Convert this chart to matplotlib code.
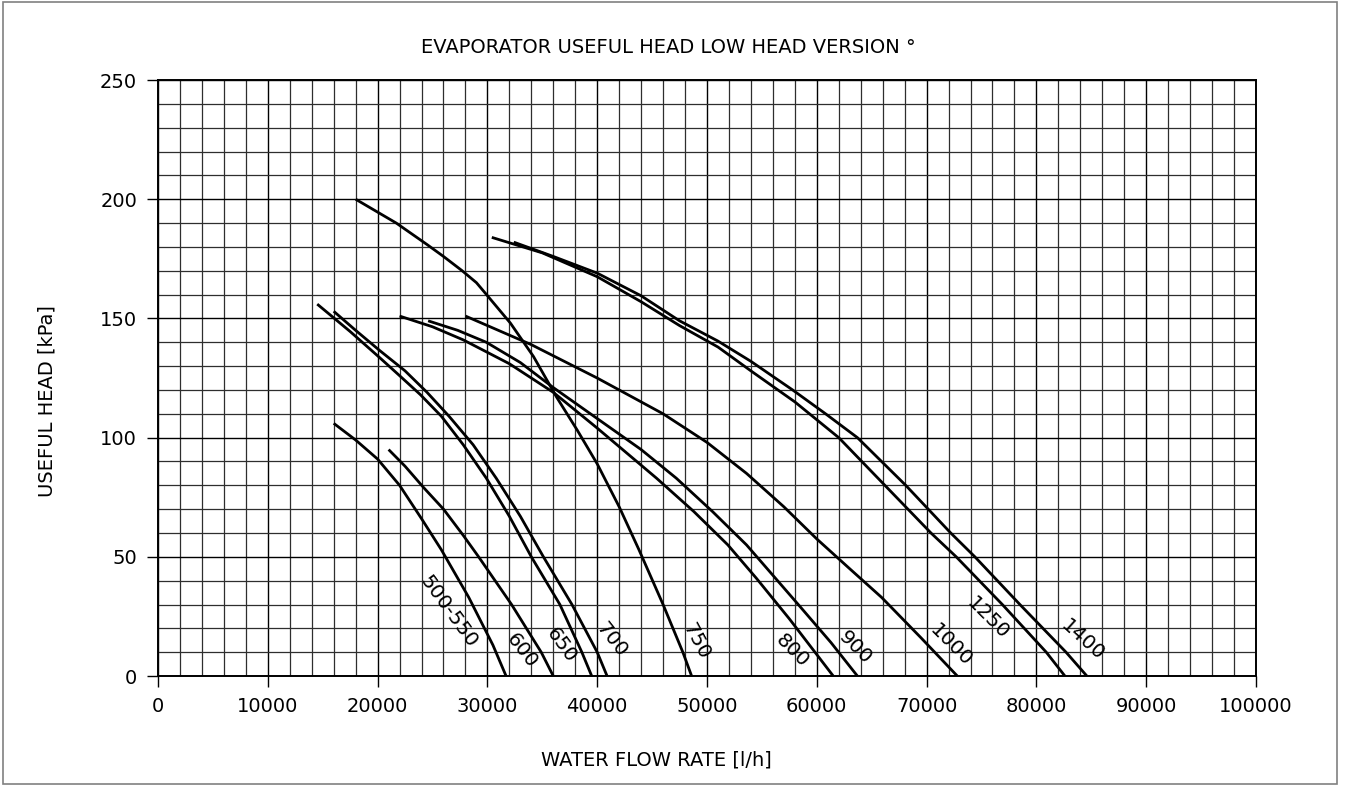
import matplotlib
matplotlib.use("Agg")
import matplotlib.pyplot as plt
from matplotlib.patches import Rectangle

# ---- data (flow l/h, head kPa) ----
c500_x = [16000, 18000, 20000, 22000, 24000, 25800, 28300, 30500, 31700]
c500_y = [106, 99, 91, 80, 66, 53, 33, 13, 0]

c600_x = [21000, 22500, 24200, 26000, 27800, 29200, 32200, 34900, 36000]
c600_y = [95, 88, 79, 70, 59, 50, 30, 10, 0]

c650_x = [14500, 17500, 20200, 22000, 23900, 25800, 27800, 29900, 32000, 34000, 36600, 38600, 39500]
c650_y = [156, 144.5, 133.5, 126, 118, 109, 97, 83, 67, 50, 30, 10, 0]

c700_x = [16000, 18000, 20200, 22500, 24500, 26500, 28700, 30800, 33000, 35100, 37700, 40000, 40900]
c700_y = [153, 145, 136.5, 128, 119, 109, 97, 83, 67, 50, 30, 10, 0]

c750_x = [18000, 21700, 24500, 26000, 27700, 29000, 30100, 32100, 34200, 36300, 38200, 40000, 42000, 43800, 46000, 47800, 48600]
c750_y = [200, 190, 181, 176, 170, 165, 159, 148, 134, 117, 103, 89, 71, 53, 30, 10, 0]

c800_x = [22000, 25000, 27800, 32000, 36000, 40000, 45400, 48800, 51900, 54500, 57500, 61500]
c800_y = [151, 146.5, 141, 131, 119, 104, 83, 69, 55, 41, 24, 0]

c900_x = [24600, 27300, 29900, 33000, 36000, 40000, 44000, 47200, 50500, 53600, 58500, 61300, 63700]
c900_y = [149, 145, 140, 131.5, 121, 108, 95, 83, 69, 55, 29, 14, 0]

c1000_x = [28000, 34000, 40000, 46000, 50000, 53600, 57000, 60000, 63000, 65900, 69500, 72800]
c1000_y = [151, 139, 125, 110, 98, 85, 71, 57.5, 45, 33, 16, 0]

c1250_x = [30400, 35000, 40000, 44000, 47500, 51000, 54000, 58000, 62000, 66200, 70400, 72700, 76900, 80900, 82600]
c1250_y = [184, 177.5, 167.5, 157, 147, 138, 128, 115, 100, 80, 60, 50, 30, 10, 0]

c1400_x = [32400, 36000, 40000, 44000, 47500, 51000, 54000, 57800, 60800, 63700, 68100, 72200, 74400, 78500, 82700, 84600]
c1400_y = [182, 176, 169, 159.5, 149, 140.5, 132, 120, 110, 100, 80, 60, 50, 30, 10, 0]

curve_names = ["500-550", "600", "650", "700", "750", "800", "900", "1000", "1250", "1400"]
curves_x = [c500_x, c600_x, c650_x, c700_x, c750_x, c800_x, c900_x, c1000_x, c1250_x, c1400_x]
curves_y = [c500_y, c600_y, c650_y, c700_y, c750_y, c800_y, c900_y, c1000_y, c1250_y, c1400_y]

# label anchor positions (data coords) for each curve name
label_x = [26500, 33100, 36700, 41300, 49000, 57800, 63500, 72200, 75600, 84200]
label_y = [26.8, 10.5, 13.0, 15.1, 14.7, 10.5, 11.7, 13.0, 24.3, 15.1]
label_rot = [-54, -52, -54, -52, -62, -45, -45, -45, -45, -42]

x_ticks = [0, 10000, 20000, 30000, 40000, 50000, 60000, 70000, 80000, 90000, 100000]
y_ticks = [0, 50, 100, 150, 200, 250]

title = "EVAPORATOR USEFUL HEAD LOW HEAD VERSION °"
xlabel = "WATER FLOW RATE [l/h]"
ylabel = "USEFUL HEAD [kPa]"

# ---- figure ----
plt.rcParams['font.family'] = ['DejaVu Sans']
fig = plt.figure(figsize=(13.45, 7.87), dpi=100)
fig.patches.append(Rectangle((0.002, 0.004), 0.992, 0.994, transform=fig.transFigure,
                             fill=False, edgecolor='#808080', linewidth=1.2))
ax = fig.add_axes([0.1175, 0.141, 0.8163, 0.7573])

ax.set_xlim(0, 100000)
ax.set_ylim(0, 250)

# grid
for gx in range(0, 100001, 2000):
    major = gx % 10000 == 0
    ax.axvline(gx, color='black' if major else '#2e2e2e', lw=1.0 if major else 0.9, zorder=1)
for gy in range(0, 251, 10):
    major = gy % 50 == 0
    ax.axhline(gy, color='black' if major else '#2e2e2e', lw=1.0 if major else 0.9, zorder=1)

for xs, ys in zip(curves_x, curves_y):
    ax.plot(xs, ys, color='black', lw=2.0, solid_capstyle='butt',
            solid_joinstyle='round', zorder=3)

for name, lx, ly, rot in zip(curve_names, label_x, label_y, label_rot):
    ax.text(lx, ly, name, rotation=rot, ha='center', va='center', fontsize=14.5,
            rotation_mode='anchor', zorder=4)

ax.set_xticks(x_ticks)
ax.set_xticklabels([str(v) for v in x_ticks])
ax.set_yticks(y_ticks)
ax.set_yticklabels([str(v) for v in y_ticks])
ax.tick_params(axis='both', direction='out', length=8, width=1, labelsize=14, pad=7)

for s in ax.spines.values():
    s.set_color('black')
    s.set_linewidth(1.4)
    s.set_zorder(5)

fig.text(0.497, 0.94, title, ha='center', va='center', fontsize=14)
fig.text(0.488, 0.034, xlabel, ha='center', va='center', fontsize=14)
fig.text(0.035, 0.49, ylabel, ha='center', va='center', fontsize=14, rotation=90)

fig.savefig("out.png", dpi=100)
